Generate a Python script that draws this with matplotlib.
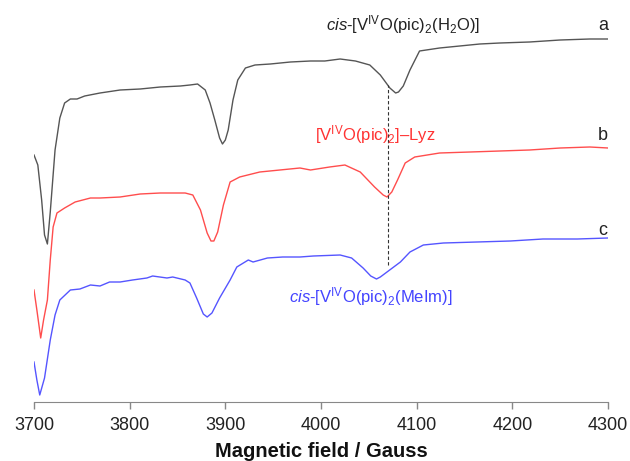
import matplotlib
matplotlib.use("Agg")
import matplotlib.pyplot as plt

plt.rcParams["font.family"] = ["Liberation Sans", "DejaVu Sans"]
plt.rcParams["mathtext.fontset"] = "custom"
plt.rcParams["mathtext.rm"] = "Liberation Sans"
plt.rcParams["mathtext.it"] = "Liberation Sans:italic"
plt.rcParams["mathtext.bf"] = "Liberation Sans:bold"

# field (Gauss) / signal (arbitrary, offset)
field_a = [3700, 3704, 3708, 3711, 3714, 3717, 3722, 3727, 3732, 3738, 3745, 3753,
           3769, 3790, 3811, 3832, 3853, 3863, 3871, 3879, 3884, 3889, 3894, 3897,
           3900, 3903, 3908, 3913, 3921, 3931, 3947, 3968, 3989, 4004, 4020, 4036,
           4051, 4062, 4072, 4078, 4081, 4086, 4093, 4103, 4124, 4145, 4166, 4187,
           4218, 4250, 4281, 4300]
signal_a = [247, 237, 202, 167, 158, 190, 252, 284, 299, 303, 303, 306,
            309, 312, 313, 315, 316, 317, 318, 312, 299, 282, 264, 258,
            262, 272, 302, 322, 334, 337, 338, 340, 341, 341, 343, 341,
            337, 327, 314, 309, 310, 316, 332, 351, 354, 356, 358, 359,
            360, 362, 363, 363]

field_b = [3700, 3703, 3707, 3710, 3714, 3717, 3720, 3724, 3732, 3743, 3759, 3769,
           3790, 3811, 3832, 3858, 3866, 3874, 3881, 3885, 3888, 3892, 3898, 3905,
           3915, 3936, 3957, 3978, 3989, 4009, 4025, 4041, 4056, 4065, 4069, 4074,
           4080, 4088, 4098, 4124, 4156, 4187, 4218, 4250, 4281, 4300]
signal_b = [112, 92, 64, 82, 102, 142, 175, 189, 194, 200, 204, 204,
            205, 208, 209, 209, 207, 192, 169, 161, 161, 170, 197, 220,
            225, 230, 232, 234, 232, 235, 237, 230, 215, 207, 205, 210,
            222, 239, 245, 249, 250, 251, 252, 254, 255, 254]

field_c = [3700, 3703, 3706, 3711, 3717, 3722, 3727, 3738, 3748, 3759, 3769, 3779,
           3790, 3803, 3818, 3824, 3839, 3845, 3858, 3863, 3870, 3877, 3881, 3886,
           3894, 3905, 3912, 3924, 3929, 3944, 3960, 3978, 3992, 4020, 4032, 4044,
           4052, 4058, 4062, 4069, 4083, 4093, 4107, 4128, 4163, 4198, 4232, 4268,
           4300]
signal_c = [40, 22, 7, 24, 62, 87, 102, 112, 113, 117, 116, 120,
            120, 122, 124, 126, 124, 125, 122, 119, 104, 88, 85, 89,
            104, 122, 135, 142, 140, 144, 145, 145, 146, 147, 144, 134,
            126, 123, 125, 130, 140, 150, 157, 159, 160, 161, 163, 163,
            164]

x_ticks = [3700, 3800, 3900, 4000, 4100, 4200, 4300]
marker_field = 4070

fig = plt.figure(figsize=(6.3, 4.61), dpi=100)
ax = fig.add_axes([34 / 630, 59 / 461, 574 / 630, 402 / 461])

ax.plot(field_a, signal_a, color="#555555", lw=1.0)
ax.plot(field_b, signal_b, color="#ff4d4d", lw=1.0)
ax.plot(field_c, signal_c, color="#5555ff", lw=1.0)
ax.plot([marker_field, marker_field], [137, 317], color="#333333", lw=0.8,
        linestyle=(0, (3, 2)))

ax.text(4086, 377, r"$\it{cis}$-[V$^{\rm IV}$O(pic)$_2$(H$_2$O)]", color="#222222",
        fontsize=12, ha="center", va="center")
ax.text(4057, 267, r"[V$^{\rm IV}$O(pic)$_2$]–Lyz", color="#ff3333",
        fontsize=12, ha="center", va="center")
ax.text(4052, 105, r"$\it{cis}$-[V$^{\rm IV}$O(pic)$_2$(MeIm)]", color="#4444ff",
        fontsize=12, ha="center", va="center")
for lab, s in [("a", 377), ("b", 267), ("c", 172)]:
    ax.text(4295, s, lab, color="#222222", fontsize=13, ha="center", va="center")

ax.set_xlim(3700, 4300)
ax.set_ylim(0, 402)
ax.set_xticks(x_ticks)
ax.tick_params(axis="x", direction="out", length=5, width=1, color="#888888",
               labelsize=13, pad=6, labelcolor="#222222")
ax.set_yticks([])
for side in ["top", "left", "right"]:
    ax.spines[side].set_visible(False)
ax.spines["bottom"].set_color("#888888")
ax.patch.set_alpha(0)

fig.text(321 / 630, 1 - 457 / 461, "Magnetic field / Gauss", fontsize=14.5,
         fontweight="bold", ha="center", va="baseline", color="#111111")

fig.savefig("out.png", dpi=100)
